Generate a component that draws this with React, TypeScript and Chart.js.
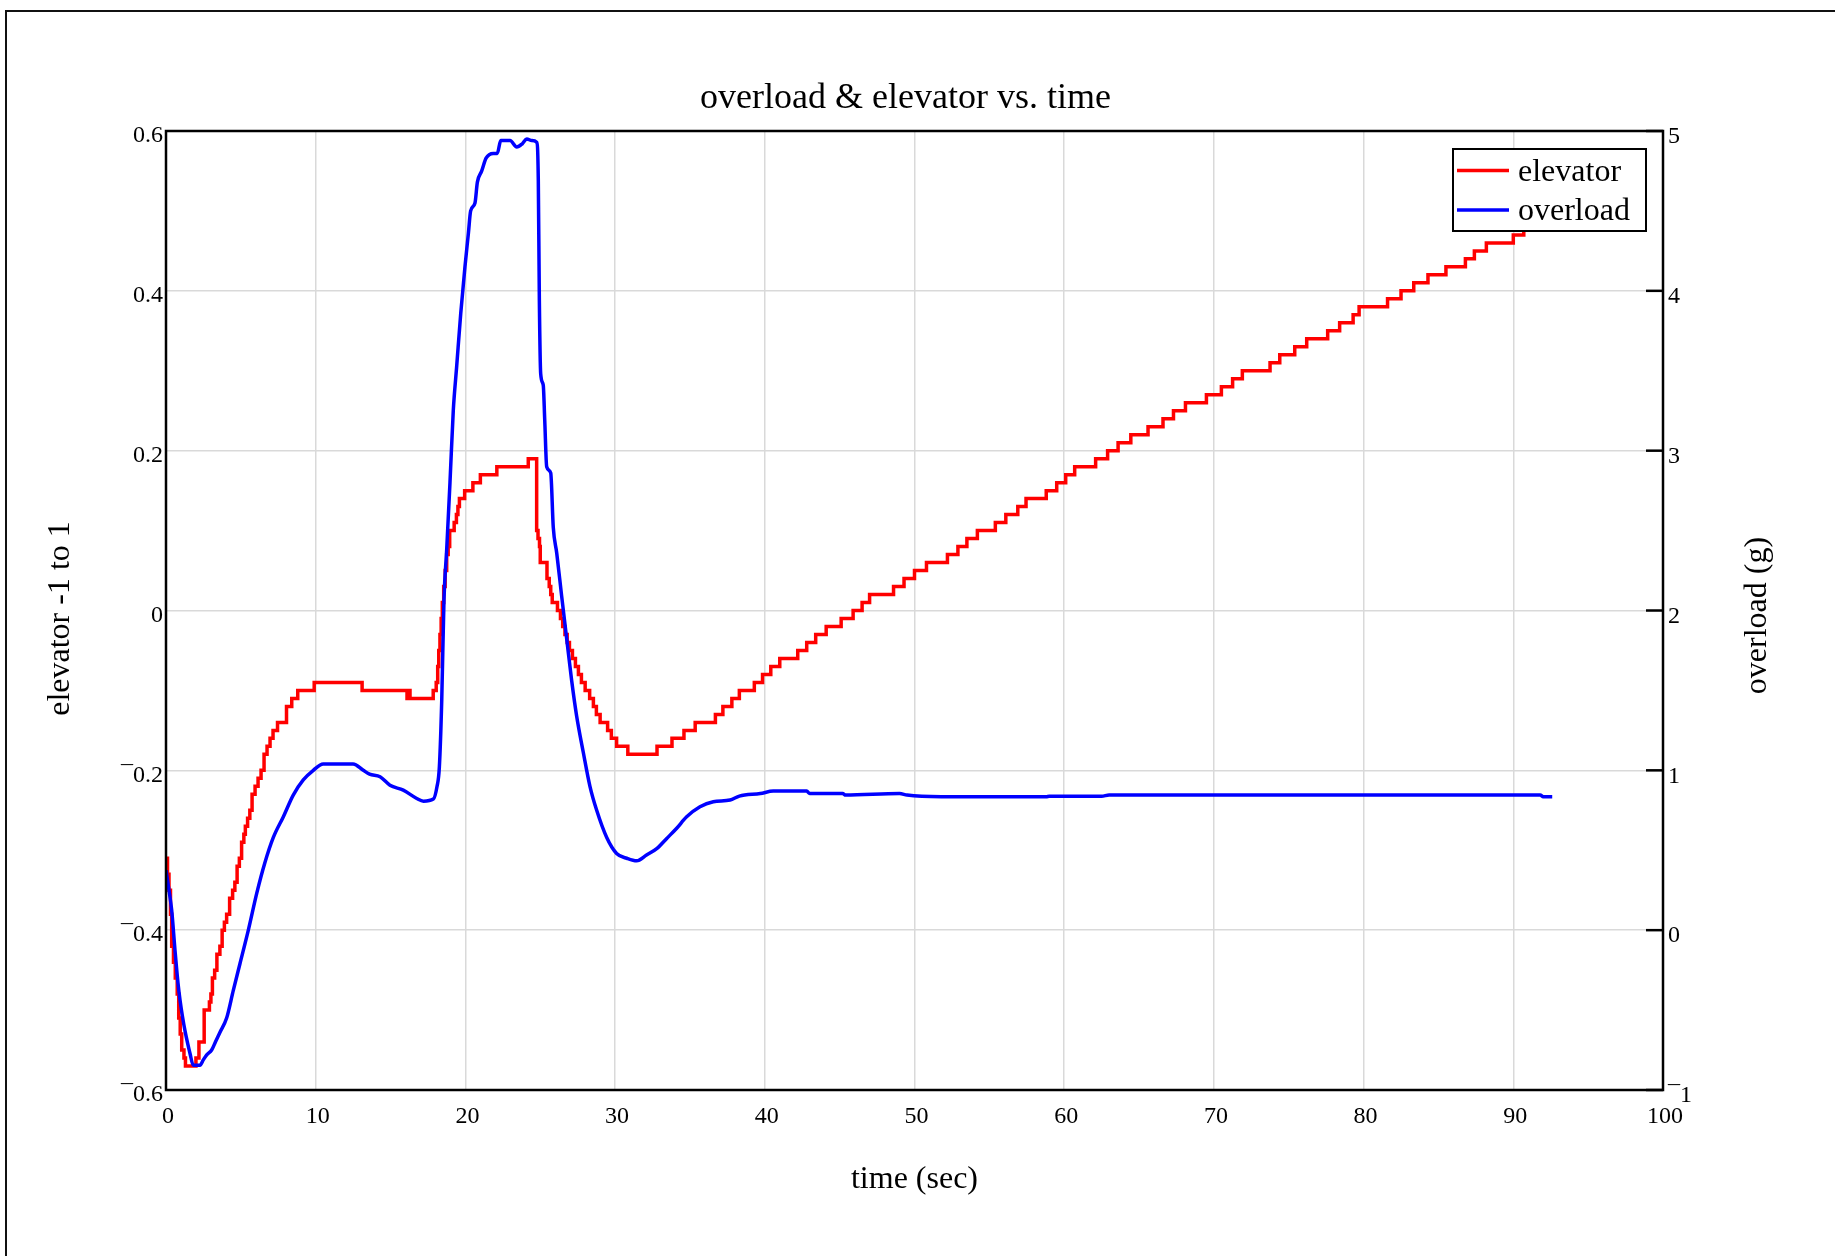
import React, { useEffect, useRef } from 'react';
import { Chart, registerables } from 'chart.js';

Chart.register(...registerables);

const FONT = "'Liberation Serif', 'Times New Roman', serif";

const titleText = 'overload & elevator vs. time';
const xTitle = 'time (sec)';
const yLeftTitle = 'elevator -1 to 1';
const yRightTitle = 'overload (g)';
const seriesLabels = ['elevator', 'overload'];
const seriesColors = ['#ff0000', '#0000ff'];

// elevator: value holds from each time until the next (step signal)
const elevatorTime = [
  0, 0.1, 0.2, 0.3, 0.38, 0.5, 0.62, 0.75, 0.85, 0.95, 1.05, 1.2, 1.3, 2.0, 2.2, 2.55, 2.9, 3.0, 3.1, 3.25,
  3.4, 3.6, 3.75, 3.9, 4.05, 4.25, 4.45, 4.6, 4.75, 4.9, 5.05, 5.2, 5.3, 5.45, 5.6, 5.75, 5.95, 6.15, 6.35, 6.55,
  6.75, 6.95, 7.15, 7.45, 8.05, 8.4, 8.8, 9.9, 13.1, 16.1, 16.2, 16.3, 17.85, 18.05, 18.15, 18.22, 18.3, 18.38, 18.46, 18.55,
  18.65, 18.75, 18.85, 18.95, 19.25, 19.4, 19.5, 19.6, 19.95, 20.5, 21.0, 22.1, 24.2, 24.76, 24.85, 24.95, 25.0, 25.45, 25.6, 25.7,
  25.8, 26.15, 26.35, 26.5, 26.65, 26.8, 26.95, 27.15, 27.35, 27.55, 27.75, 28.0, 28.3, 28.55, 28.75, 29.0, 29.5, 29.75, 30.1, 30.85,
  32.8, 33.8, 34.6, 35.35, 36.7, 37.2, 37.8, 38.3, 39.3, 39.85, 40.4, 41.0, 42.2, 42.8, 43.4, 44.1, 45.1, 45.9, 46.5, 47.0,
  48.6, 49.3, 50.0, 50.8, 52.2, 52.9, 53.5, 54.2, 55.4, 56.1, 56.9, 57.45, 58.8, 59.5, 60.1, 60.7, 62.1, 62.9, 63.6, 64.45,
  65.6, 66.6, 67.3, 68.1, 69.5, 70.5, 71.25, 71.9, 73.75, 74.4, 75.4, 76.2, 77.6, 78.4, 79.3, 79.7, 81.6, 82.5, 83.35, 84.3,
  85.5, 86.8, 87.4, 88.2, 90.0, 90.7, 92.5,
];
const elevatorValue = [
  -0.31, -0.33, -0.35, -0.38, -0.42, -0.44, -0.46, -0.48, -0.51, -0.53, -0.55, -0.56, -0.57, -0.56, -0.54, -0.5, -0.49, -0.48, -0.46, -0.45,
  -0.43, -0.42, -0.4, -0.39, -0.38, -0.36, -0.35, -0.34, -0.32, -0.31, -0.29, -0.28, -0.27, -0.26, -0.25, -0.23, -0.22, -0.21, -0.2, -0.18,
  -0.17, -0.16, -0.15, -0.14, -0.12, -0.11, -0.1, -0.09, -0.1, -0.11, -0.1, -0.11, -0.1, -0.09, -0.07, -0.05, -0.03, -0.01, 0.01, 0.03,
  0.05, 0.07, 0.08, 0.1, 0.11, 0.12, 0.13, 0.14, 0.15, 0.16, 0.17, 0.18, 0.19, 0.1, 0.09, 0.08, 0.06, 0.04, 0.03, 0.02,
  0.01, 0.0, -0.01, -0.02, -0.03, -0.04, -0.05, -0.06, -0.07, -0.08, -0.09, -0.1, -0.11, -0.12, -0.13, -0.14, -0.15, -0.16, -0.17, -0.18,
  -0.17, -0.16, -0.15, -0.14, -0.13, -0.12, -0.11, -0.1, -0.09, -0.08, -0.07, -0.06, -0.05, -0.04, -0.03, -0.02, -0.01, 0.0, 0.01, 0.02,
  0.03, 0.04, 0.05, 0.06, 0.07, 0.08, 0.09, 0.1, 0.11, 0.12, 0.13, 0.14, 0.15, 0.16, 0.17, 0.18, 0.19, 0.2, 0.21, 0.22,
  0.23, 0.24, 0.25, 0.26, 0.27, 0.28, 0.29, 0.3, 0.31, 0.32, 0.33, 0.34, 0.35, 0.36, 0.37, 0.38, 0.39, 0.4, 0.41, 0.42,
  0.43, 0.44, 0.45, 0.46, 0.47, 0.48, 0.48,
];

const overloadTime = [
  0, 0.2, 0.38, 0.6, 0.8, 0.94, 1.1, 1.27, 1.45, 1.6, 1.82, 2.27, 2.5, 2.72, 3.05, 3.3, 3.6, 4.05, 4.5, 4.94,
  5.5, 6.06, 6.6, 7.17, 7.84, 8.5, 9.17, 9.84, 10.5, 12.5, 13.18, 13.6, 14.3, 14.96, 15.85, 16.75, 17.2, 17.86, 18.1, 18.26,
  18.42, 18.57, 18.75, 18.97, 19.19, 19.42, 19.69, 19.97, 20.2, 20.35, 20.64, 20.8, 21.09, 21.38, 21.86, 22.13, 22.36, 22.98, 23.43, 23.8,
  24.1, 24.43, 24.76, 24.87, 24.94, 25.03, 25.2, 25.3, 25.43, 25.7, 25.87, 26.1, 26.43, 26.77, 27.1, 27.43, 27.88, 28.32, 28.77, 29.44,
  30.1, 30.78, 31.44, 32.1, 32.78, 33.45, 34.1, 34.78, 35.67, 36.56, 37.68, 38.3, 39.7, 40.57, 42.8, 43.0, 45.2, 45.4, 49.0, 49.5,
  51.8, 58.8, 59.0, 62.5, 63.0, 91.8, 92.0, 92.6,
];
const overloadValue = [
  0.375, 0.25, 0.125, -0.125, -0.33, -0.44, -0.54, -0.63, -0.71, -0.77, -0.845, -0.845, -0.81, -0.78, -0.75, -0.7, -0.64, -0.55, -0.375, -0.21,
  0.0, 0.23, 0.42, 0.58, 0.71, 0.845, 0.94, 1.0, 1.04, 1.04, 1.0, 0.976, 0.96, 0.907, 0.876, 0.824, 0.807, 0.82, 0.897, 1.02,
  1.44, 2.07, 2.38, 2.8, 3.25, 3.53, 3.86, 4.15, 4.36, 4.5, 4.55, 4.68, 4.75, 4.83, 4.86, 4.86, 4.94, 4.94, 4.9, 4.92,
  4.95, 4.94, 4.93, 4.69, 3.94, 3.48, 3.41, 3.19, 2.9, 2.86, 2.52, 2.36, 2.09, 1.82, 1.56, 1.34, 1.11, 0.9, 0.75, 0.58,
  0.48, 0.45, 0.434, 0.47, 0.51, 0.574, 0.636, 0.709, 0.772, 0.803, 0.814, 0.839, 0.855, 0.87, 0.87, 0.855, 0.855, 0.845, 0.855, 0.845,
  0.835, 0.835, 0.838, 0.838, 0.846, 0.846, 0.835, 0.835,
];

function fmt(v: number | string): string {
  const r = Math.round(Number(v) * 100) / 100;
  if (Math.abs(r) < 1e-9) return '0';
  return r < 0 ? '\u00AF' + String(Math.abs(r)) : String(r);
}

const framePlugin = {
  id: 'plotFrame',
  afterDatasetsDraw(chart: any) {
    const { ctx, chartArea: a } = chart;
    const y1 = chart.scales.y1;
    ctx.save();
    ctx.strokeStyle = '#000';
    ctx.lineWidth = 2.5;
    y1.ticks.forEach((t: any) => {
      const py = y1.getPixelForValue(t.value);
      ctx.beginPath();
      ctx.moveTo(a.right - 17, py);
      ctx.lineTo(a.right, py);
      ctx.stroke();
    });
    ctx.strokeRect(a.left, a.top, a.right - a.left, a.bottom - a.top);
    ctx.restore();
  },
};

const sideTitlesPlugin = {
  id: 'sideTitles',
  afterDraw(chart: any) {
    const { ctx, chartArea: a } = chart;
    const mid = (a.top + a.bottom) / 2;
    ctx.save();
    ctx.font = `32px ${FONT}`;
    ctx.fillStyle = '#000';
    ctx.textAlign = 'center';
    ctx.textBaseline = 'middle';
    ctx.save();
    ctx.translate(61, mid + 8);
    ctx.rotate(-Math.PI / 2);
    ctx.fillText(yLeftTitle, 0, 0);
    ctx.restore();
    ctx.save();
    ctx.translate(chart.width - 77, mid + 5);
    ctx.rotate(-Math.PI / 2);
    ctx.fillText(yRightTitle, 0, 0);
    ctx.restore();
    ctx.restore();
  },
};

const boxLegendPlugin = {
  id: 'boxLegend',
  afterDraw(chart: any) {
    const { ctx, chartArea: a } = chart;
    const ds = chart.data.datasets;
    const boxW = 193;
    const boxH = 82;
    const rowH = 39.5;
    const right = a.right - 17;
    const top = a.top + 18;
    const left = right - boxW;
    ctx.save();
    ctx.fillStyle = '#fff';
    ctx.fillRect(left, top, boxW, boxH);
    ctx.strokeStyle = '#000';
    ctx.lineWidth = 2;
    ctx.strokeRect(left, top, boxW, boxH);
    ctx.font = `32px ${FONT}`;
    ctx.textBaseline = 'middle';
    ctx.textAlign = 'left';
    ds.forEach((d: any, i: number) => {
      const cy = top + 21.5 + i * rowH;
      ctx.strokeStyle = d.borderColor;
      ctx.lineWidth = 3.5;
      ctx.beginPath();
      ctx.moveTo(left + 4, cy);
      ctx.lineTo(left + 56, cy);
      ctx.stroke();
      ctx.fillStyle = '#000';
      ctx.fillText(d.label, left + 65, cy + 2);
    });
    ctx.restore();
  },
};

export default function App() {
  const ref = useRef<HTMLCanvasElement | null>(null);

  useEffect(() => {
    if (!ref.current) return;
    Chart.defaults.font.family = FONT;
    Chart.defaults.color = '#000';
    const tickFont = { family: FONT, size: 24 };
    const axisTitleFont = { family: FONT, size: 32 };
    const gridOpts = { color: '#d9d9d9', lineWidth: 1.5, drawTicks: false };

    const chart = new Chart(ref.current, {
      type: 'line',
      data: {
        datasets: [
          {
            label: seriesLabels[0],
            data: elevatorTime.map((t, i) => ({ x: t, y: elevatorValue[i] })),
            borderColor: seriesColors[0],
            backgroundColor: seriesColors[0],
            borderWidth: 3.5,
            pointRadius: 0,
            stepped: 'before',
            yAxisID: 'y',
            order: 2,
          },
          {
            label: seriesLabels[1],
            data: overloadTime.map((t, i) => ({ x: t, y: overloadValue[i] })),
            borderColor: seriesColors[1],
            backgroundColor: seriesColors[1],
            borderWidth: 3.5,
            pointRadius: 0,
            cubicInterpolationMode: 'monotone',
            yAxisID: 'y1',
            order: 1,
          },
        ],
      },
      options: {
        animation: false,
        responsive: true,
        maintainAspectRatio: false,
        layout: { padding: { left: 0, top: 0, bottom: 0, right: 24 } },
        plugins: {
          legend: { display: false },
          tooltip: { enabled: false },
          title: {
            display: true,
            text: titleText,
            color: '#000',
            font: { family: FONT, size: 36, weight: 'normal' },
            padding: { top: 76.5, bottom: 11.3 },
          },
        },
        scales: {
          x: {
            type: 'linear',
            min: 0,
            max: 100,
            ticks: { stepSize: 10, font: tickFont, color: '#000', padding: 12.5, maxRotation: 0, labelOffset: 2 },
            grid: gridOpts,
            border: { display: false },
            title: { display: true, text: xTitle, color: '#000', font: axisTitleFont, padding: { top: 0, bottom: 57.5 } },
            afterFit: (s: any) => { s.height = 166; },
          },
          y: {
            position: 'left',
            min: -0.6,
            max: 0.6,
            ticks: { stepSize: 0.2, font: tickFont, color: '#000', padding: 3, labelOffset: 5, callback: (v: any) => fmt(v) },
            grid: gridOpts,
            border: { display: false },
            afterFit: (s: any) => { s.width = 166; },
          },
          y1: {
            position: 'right',
            min: -1,
            max: 5,
            ticks: { stepSize: 1, font: tickFont, color: '#000', padding: 5, labelOffset: 6, callback: (v: any) => fmt(v) },
            grid: { drawOnChartArea: false, drawTicks: false },
            border: { display: false },
            afterFit: (s: any) => { s.width = 148; },
          },
        },
      } as any,
      plugins: [framePlugin, sideTitlesPlugin, boxLegendPlugin],
    });
    return () => chart.destroy();
  }, []);

  return (
    <div style={{ position: 'fixed', left: 0, top: 0, width: 1835, height: 1256, background: '#fff', overflow: 'hidden' }}>
      <div
        style={{
          position: 'absolute',
          left: 5,
          top: 10,
          width: 1900,
          height: 1400,
          borderLeft: '2px solid #111',
          borderTop: '2px solid #111',
          boxSizing: 'border-box',
        }}
      />
      <div style={{ position: 'absolute', left: 0, top: 0, width: 1835, height: 1256 }}>
        <canvas ref={ref} />
      </div>
    </div>
  );
}
